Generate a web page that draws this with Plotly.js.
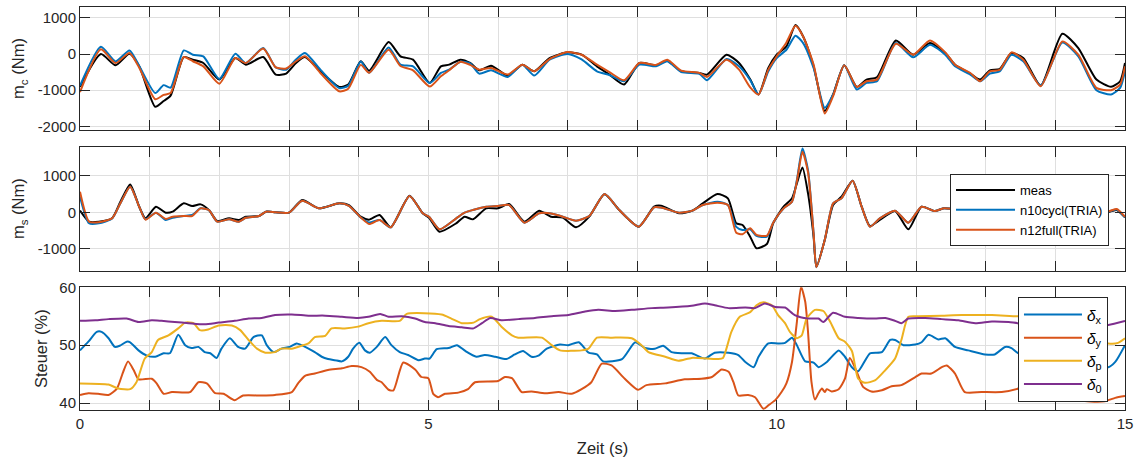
<!DOCTYPE html>
<html>
<head>
<meta charset="utf-8">
<script src="https://cdn.plot.ly/plotly-3.0.1.min.js"></script>
<style>
html,body{margin:0;padding:0;background:#fff;}
#chart{width:1139px;height:459px;}
</style>
</head>
<body>
<div id="chart"></div>
<script>
// ---------- data: top panel m_c (Nm) ----------
const tC = [0,0.3,0.51,0.71,0.85,1.08,1.2,1.3,1.49,1.62,1.77,2.0,2.23,2.38,2.63,2.81,2.96,3.1,3.23,3.45,3.72,3.85,4.03,4.15,4.43,4.6,4.78,5.02,5.18,5.3,5.46,5.6,5.73,5.9,6.14,6.35,6.52,6.74,7.0,7.2,7.42,7.6,7.81,8.03,8.27,8.43,8.63,8.89,9.0,9.28,9.46,9.62,9.74,9.88,10.0,10.14,10.27,10.38,10.53,10.69,10.81,10.97,11.15,11.29,11.44,11.71,11.96,12.2,12.42,12.56,12.78,12.92,13.06,13.2,13.37,13.54,13.79,14.1,14.33,14.59,14.8,14.93,15];
const mcMeas = [-908,0,-312,5,-340,-1459,-1300,-1150,-83,-156,-248,-706,-110,-294,-83,-569,-541,-248,-83,-477,-908,-844,-202,-460,330,-64,-156,-800,-340,-294,-156,-248,-450,-321,-596,-294,-477,-110,46,-18,-340,-569,-844,-248,-312,-183,-477,-523,-569,-18,-248,-700,-1119,-385,-18,211,800,486,-340,-1578,-1119,-312,-908,-706,-642,376,-18,303,28,-294,-541,-706,-450,-420,28,-110,-872,560,165,-706,-908,-752,-248];
const mcN10 = [-880,200,-204,100,-330,-1080,-860,-930,100,-20,-66,-690,8,-250,165,-370,-434,-150,28,-431,-940,-880,-204,-520,183,-294,-340,-800,-523,-431,-211,-260,-541,-450,-633,-294,-596,-156,0,-150,-477,-580,-752,-294,-340,-200,-500,-550,-725,-138,-340,-720,-1119,-477,-110,119,505,303,-385,-1486,-1119,-312,-982,-798,-752,303,-92,257,-18,-340,-569,-752,-541,-480,-18,-202,-872,321,-64,-1000,-1119,-936,-477];
const mcN12 = [-1050,130,-250,28,-380,-1250,-1130,-1080,-83,-200,-340,-820,-110,-250,150,-370,-400,-200,-60,-523,-1030,-960,-300,-520,119,-330,-450,-900,-615,-450,-211,-300,-431,-385,-569,-294,-477,-138,55,-20,-294,-500,-725,-248,-300,-160,-460,-520,-633,-156,-431,-920,-1119,-431,-64,321,780,486,-294,-1642,-1165,-312,-908,-752,-706,284,-18,376,46,-294,-523,-752,-477,-440,46,-156,-890,349,-18,-936,-1000,-844,-340];

// ---------- data: middle panel m_s (Nm) ----------
const tS = [0,0.13,0.27,0.46,0.58,0.72,0.85,0.94,1.09,1.23,1.33,1.49,1.61,1.73,1.85,1.97,2.14,2.28,2.38,2.57,2.67,2.81,3.0,3.19,3.43,3.72,3.86,4.03,4.15,4.30,4.46,4.73,4.92,5.01,5.16,5.40,5.52,5.64,5.83,6.0,6.16,6.38,6.59,6.76,6.93,7.12,7.31,7.53,7.74,8.02,8.24,8.34,8.60,8.79,8.94,9.15,9.30,9.42,9.51,9.62,9.71,9.86,9.95,10.1,10.22,10.29,10.37,10.45,10.53,10.57,10.69,10.81,10.93,11.09,11.22,11.34,11.48,11.7,11.89,12.08,12.27,12.4,13.0,13.8,14.4,14.78,14.88,15];
const msMeas = [50,-256,-256,-164,290,767,155,-164,155,-9,18,247,173,219,64,-237,-164,-210,-119,-100,18,0,-9,338,110,247,200,-119,-200,-73,-411,457,-27,-146,-530,-301,-119,-192,110,110,228,-256,46,-119,-146,-411,-119,493,64,-393,155,183,-27,46,247,502,384,-301,-347,-667,-986,-868,-301,155,384,795,1233,520,-667,-1500,-758,200,429,868,155,-374,-210,37,-466,155,37,110,0,30,50,18,64,-137];
const msN10 = [430,-300,-300,-170,250,703,155,-190,-9,-210,-150,-100,-73,110,64,-256,-190,-256,-150,-100,18,0,-9,320,110,247,180,-140,-280,-210,-411,447,-27,-120,-466,-164,-9,64,155,173,200,-283,-27,-30,-119,-228,-100,502,64,-393,137,130,-9,46,200,292,200,-400,-484,-466,-648,-667,-283,110,292,886,1753,1160,-575,-1507,-758,247,384,868,155,-393,-164,46,-283,155,37,110,0,30,50,30,80,-137];
const msN12 = [566,-256,-270,-164,250,703,155,-200,-9,-180,-120,-100,-100,110,64,-256,-190,-256,-150,-100,18,0,-9,320,110,247,180,-140,-320,-210,-411,447,-27,-120,-466,-164,-9,64,155,173,200,-283,-27,-30,-119,-228,-100,502,64,-393,137,130,-9,46,200,265,200,-560,-600,-438,-620,-640,-283,110,292,850,1662,1100,-575,-1507,-758,247,384,868,155,-393,-164,46,-283,155,37,110,0,30,50,40,90,-120];

// ---------- data: bottom panel Steuer (%) ----------
const tDx = [0,0.12,0.24,0.31,0.41,0.5,0.57,0.67,0.72,0.84,0.96,1.08,1.2,1.29,1.41,1.51,1.6,1.7,1.79,1.87,1.96,2.03,2.15,2.27,2.37,2.49,2.61,2.68,2.78,2.89,3.01,3.11,3.18,3.28,3.37,3.47,3.56,3.66,3.76,3.85,3.92,4.01,4.09,4.16,4.26,4.38,4.47,4.59,4.71,4.86,4.95,5.02,5.12,5.29,5.41,5.53,5.69,5.81,5.96,6.12,6.24,6.36,6.48,6.58,6.7,6.89,7.01,7.16,7.3,7.42,7.51,7.78,7.97,8.11,8.25,8.37,8.49,8.64,8.78,8.97,9.11,9.31,9.45,9.55,9.67,9.74,9.88,10.02,10.12,10.22,10.29,10.41,10.53,10.6,10.72,10.89,10.98,11.08,11.17,11.34,11.51,11.63,11.7,11.82,11.99,12.08,12.18,12.32,12.42,12.56,12.75,12.99,13.13,13.28,13.37,13.47,13.8,14.2,14.5,14.76,14.86,15];
const dX = [49.1,50.6,52.3,52.3,51.2,49.7,49.9,50.6,50.5,49.1,48.2,48.0,48.6,48.6,51.8,50.0,49.5,49.7,48.8,48.6,47.8,49.4,51.2,49.7,49.4,51.4,51.7,50.0,48.8,49.4,49.7,50.3,50.0,49.4,48.8,48.0,47.6,47.4,47.2,48.0,49.4,50.4,49.1,48.7,49.7,51.4,50.0,48.8,48.3,47.4,47.7,47.7,49.3,49.5,50.0,49.0,48.0,48.3,48.0,47.6,48.4,49.0,48.0,48.2,49.4,50.1,50.0,50.5,48.7,48.4,47.2,47.6,50.5,49.5,49.4,49.9,48.8,48.6,48.6,47.7,48.7,48.7,48.3,47.1,46.2,48.0,50.3,50.3,50.4,51.3,50.0,47.2,47.0,46.2,47.1,49.1,48.0,46.2,45.5,48.6,48.8,50.9,50.9,50.0,50.1,50.5,51.8,51.0,51.2,49.7,49.1,48.4,48.4,49.7,49.5,48.6,48.5,48.0,47.0,46.2,47.1,50.0];
const tDy = [0,0.12,0.26,0.41,0.53,0.62,0.69,0.77,0.84,1.03,1.1,1.2,1.32,1.58,1.7,1.82,1.94,2.06,2.22,2.34,2.61,2.8,3.04,3.13,3.23,3.37,3.56,3.76,3.9,4.04,4.16,4.26,4.33,4.43,4.5,4.64,4.81,4.9,5.0,5.07,5.14,5.24,5.43,5.57,5.67,6.0,6.1,6.2,6.34,6.48,6.67,6.87,7.06,7.2,7.34,7.49,7.63,7.82,8.01,8.13,8.4,8.68,8.92,9.07,9.21,9.31,9.38,9.45,9.59,9.69,9.81,9.88,9.98,10.07,10.14,10.22,10.29,10.35,10.41,10.45,10.5,10.55,10.6,10.65,10.69,10.72,10.79,10.89,10.98,11.05,11.15,11.24,11.36,11.51,11.65,11.79,11.99,12.08,12.22,12.37,12.44,12.56,12.7,12.94,13.23,13.47,13.7,14.05,14.4,14.71,14.86,15];
const dY = [41.4,41.7,41.6,41.4,42.5,45.4,47.2,45.7,44.1,44.2,43.4,41.6,41.9,41.9,43.6,43.4,41.7,41.6,40.5,41.3,41.3,41.4,41.9,43.4,44.7,45.1,45.7,46.0,46.4,46.2,45.4,44.0,43.6,42.3,42.2,47.0,45.8,44.5,44.3,41.6,41.0,41.6,41.8,42.4,43.6,43.8,44.5,44.3,41.9,42.0,41.7,41.9,41.6,42.4,43.6,46.8,46.5,44.2,42.3,43.1,43.4,44.1,44.2,44.5,45.8,45.4,43.6,41.3,41.4,41.0,39.0,39.6,40.5,41.9,43.4,47.1,54.0,60.1,57.5,52.3,43.6,40.6,41.7,42.5,41.9,42.4,42.0,42.4,44.2,47.8,45.4,42.8,42.0,42.2,42.9,43.1,44.5,45.1,45.1,46.2,46.5,45.1,41.9,41.9,41.9,42.5,43.5,42.5,40.4,40.3,40.9,41.2];
const tDp = [0,0.41,0.55,0.72,0.81,0.93,1.03,1.12,1.27,1.41,1.51,1.63,1.72,1.84,1.99,2.18,2.3,2.42,2.54,2.66,2.8,2.89,3.04,3.18,3.28,3.37,3.52,3.61,3.8,3.99,4.14,4.33,4.59,4.69,5.19,5.33,5.48,5.65,5.74,5.91,6.05,6.2,6.29,6.63,6.77,6.89,7.2,7.3,7.42,7.63,7.92,8.06,8.16,8.4,8.59,8.78,9.16,9.23,9.35,9.47,9.62,9.71,9.81,9.93,10.02,10.12,10.19,10.29,10.36,10.43,10.55,10.67,10.77,10.89,10.98,11.08,11.17,11.27,11.41,11.56,11.7,11.79,11.89,12.03,12.37,12.66,13.09,13.47,13.9,14.3,14.55,14.76,14.9,15];
const dP = [43.4,43.2,42.5,42.4,43.6,47.7,48.8,50.9,51.7,52.9,53.9,53.8,52.6,52.7,53.4,53.4,52.6,50.9,49.4,48.7,48.8,49.4,49.4,49.9,50.3,51.4,51.6,52.9,52.9,53.2,53.8,54.2,54.2,55.4,55.3,54.6,53.8,53.9,54.5,54.9,53.2,51.7,51.3,51.3,50.0,49.1,49.1,49.4,51.3,51.3,51.2,50.0,48.8,48.0,47.3,47.8,47.6,47.8,52.3,54.9,55.7,56.9,57.4,56.9,55.2,53.8,52.3,51.2,51.7,54.6,56.1,55.9,54.0,51.2,50.6,49.0,44.2,43.5,43.9,45.7,47.7,50.9,54.9,55.0,55.1,55.2,55.2,55.0,55.0,54.5,51.0,50.3,50.4,51.2];
const tD0 = [0,0.22,0.41,0.67,0.84,1.03,1.17,1.36,1.56,1.79,1.99,2.22,2.42,2.61,2.8,3.04,3.28,3.52,3.76,3.99,4.14,4.31,4.43,4.62,4.81,4.95,5.1,5.29,5.48,5.65,5.77,5.89,6.05,6.29,6.53,6.77,7.01,7.25,7.44,7.68,7.92,8.21,8.44,8.78,8.97,9.11,9.31,9.55,9.69,9.83,9.98,10.12,10.26,10.45,10.6,10.67,10.81,10.98,11.17,11.41,11.56,11.7,11.79,11.89,12.13,12.37,12.61,12.85,13.09,13.33,13.47,14.0,14.5,14.76,15];
const d0 = [54.2,54.3,54.5,54.6,54.0,54.3,54.2,54.0,53.8,53.6,53.9,54.2,54.6,54.7,55.2,55.3,55.1,55.1,54.9,54.7,54.9,55.4,54.9,55.0,54.6,54.0,53.8,53.3,53.1,52.9,53.8,54.7,54.3,54.5,54.7,55.0,55.2,55.8,56.1,55.9,56.1,56.4,56.5,56.8,57.2,56.9,56.4,56.5,56.4,57.2,56.6,56.5,55.2,54.6,54.6,54.0,55.6,54.9,54.7,54.6,54.7,54.2,53.8,54.6,54.7,54.5,54.3,53.8,54.1,54.0,53.8,53.6,53.4,53.5,54.2];

// ---------- ticks ----------
const xTickVals = [0,5,10,15];
const xTickText = ['0','5','10','15'];
const xMinorVals = [0,1,2,3,4,5,6,7,8,9,10,11,12,13,14,15];
const yTicksC = [-2000,-1000,0,1000];
const yTicksS = [-1000,0,1000];
const yTicksD = [40,50,60];

// ---------- style ----------
const FONT = '"Liberation Sans", Arial, Helvetica, sans-serif';
const INK = '#262626';
const GRID = '#dfdfdf';
const COL = {meas:'#000000', blue:'#0072BD', orange:'#D95319', yellow:'#EDB120', purple:'#7E2F8E'};

function line(x, y, name, color, xa, ya, legend, show) {
  return {type:'scatter', mode:'lines', x:x, y:y, name:name, xaxis:xa, yaxis:ya,
          legend:legend, showlegend:show, hoverinfo:'skip',
          line:{color:color, width:2, shape:'spline', smoothing:0.6}};
}

const traces = [
  line(tC, mcMeas, 'meas', COL.meas, 'x', 'y', 'legend', false),
  line(tC, mcN10, 'n10cycl(TRIA)', COL.blue, 'x', 'y', 'legend', false),
  line(tC, mcN12, 'n12full(TRIA)', COL.orange, 'x', 'y', 'legend', false),
  line(tS, msMeas, 'meas', COL.meas, 'x2', 'y2', 'legend', true),
  line(tS, msN10, 'n10cycl(TRIA)', COL.blue, 'x2', 'y2', 'legend', true),
  line(tS, msN12, 'n12full(TRIA)', COL.orange, 'x2', 'y2', 'legend', true),
  line(tDx, dX, '<i>δ</i><sub>x</sub>', COL.blue, 'x3', 'y3', 'legend2', true),
  line(tDy, dY, '<i>δ</i><sub>y</sub>', COL.orange, 'x3', 'y3', 'legend2', true),
  line(tDp, dP, '<i>δ</i><sub>p</sub>', COL.yellow, 'x3', 'y3', 'legend2', true),
  line(tD0, d0, '<i>δ</i><sub>0</sub>', COL.purple, 'x3', 'y3', 'legend2', true)
];

const axBase = {
  showline:true, mirror:'allticks', linecolor:INK, linewidth:1,
  ticks:'inside', ticklen:10, tickwidth:1, tickcolor:INK,
  showgrid:true, gridcolor:GRID, gridwidth:1, zeroline:false,
  tickfont:{family:FONT, size:15, color:INK}, fixedrange:true
};
function xAx(anchor, labels) {
  return Object.assign({}, axBase, {anchor:anchor, range:[0,15], tickmode:'array',
    tickvals:xTickVals, ticktext:xTickText, showticklabels:labels, domain:[0,1],
    minor:{tickmode:'array', tickvals:xMinorVals, ticks:'inside', ticklen:10, tickwidth:1,
           tickcolor:INK, showgrid:true, gridcolor:GRID, gridwidth:1}});
}
function yAx(anchor, dom, range, ticks, title, standoff) {
  return Object.assign({}, axBase, {anchor:anchor, domain:dom, range:range, tickmode:'array',
    tickvals:ticks, ticktext:ticks.map(String),
    title:{text:title, font:{family:FONT, size:16.5, color:INK}, standoff:standoff}});
}

const layout = {
  width:1139, height:459,
  margin:{l:80, r:14, t:7, b:49},
  paper_bgcolor:'#ffffff', plot_bgcolor:'#ffffff',
  font:{family:FONT, color:INK},
  xaxis: xAx('y', false),
  xaxis2: xAx('y2', false),
  xaxis3: Object.assign(xAx('y3', true), {title:{text:'Zeit (s)', font:{family:FONT, size:16.5, color:INK}, standoff:11}}),
  yaxis: yAx('x', [0.6948, 1], [-2100, 1300], yTicksC, 'm<sub>c</sub> (Nm)', 8),
  yaxis2: yAx('x2', [0.3457, 0.6533], [-1600, 1800], yTicksS, 'm<sub>s</sub> (Nm)', 8),
  yaxis3: yAx('x3', [0, 0.3045], [38.8, 60], yTicksD, 'Steuer (%)', 7),
  legend: {x:0.9847, xanchor:'right', y:0.5856, yanchor:'top', bgcolor:'#ffffff',
           bordercolor:INK, borderwidth:1, itemwidth:59, tracegroupgap:0,
           font:{family:FONT, size:13, color:'#000000'}},
  legend2: {x:0.9837, xanchor:'right', y:0.2804, yanchor:'top', bgcolor:'#ffffff',
           bordercolor:INK, borderwidth:1, itemwidth:58, tracegroupgap:0,
           font:{family:FONT, size:15.5, color:'#000000'}},
  showlegend:true
};

Plotly.newPlot('chart', traces, layout, {displayModeBar:false, staticPlot:true});
</script>
</body>
</html>
